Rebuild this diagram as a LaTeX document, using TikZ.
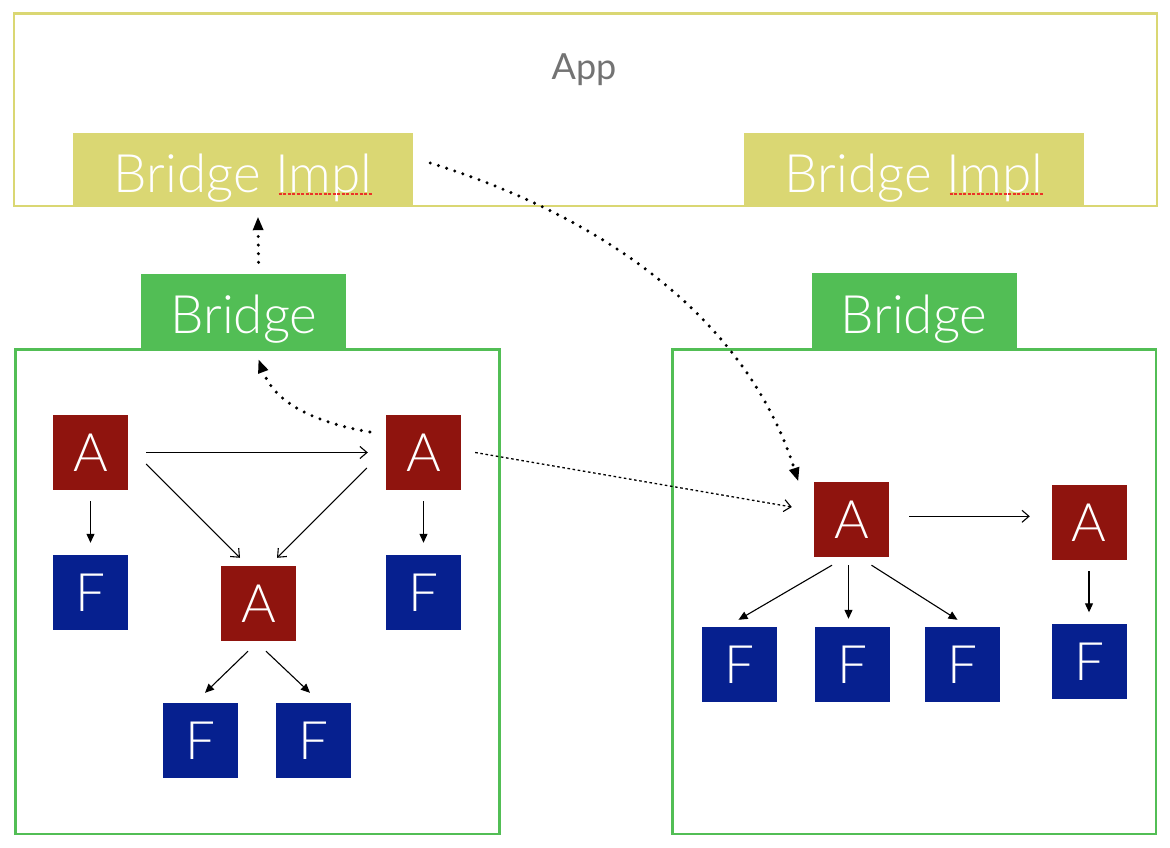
\documentclass[tikz,border=0pt]{standalone}
\usepackage{fontspec}
\setmainfont{Lato Light}
\newfontfamily\appfont{Lato}
\usetikzlibrary{arrows.meta}
\definecolor{appy}{RGB}{218,215,115}
\definecolor{brg}{RGB}{82,190,85}
\definecolor{ared}{RGB}{143,20,14}
\definecolor{fblue}{RGB}{6,32,143}
\definecolor{appgray}{RGB}{115,115,115}
\definecolor{squig}{RGB}{235,50,40}
\tikzset{
  frameline/.style={line width=2.8pt},
  sq/.style={minimum width=75pt, minimum height=75pt, inner sep=0pt, text=white,
     font=\fontsize{53}{60}\selectfont},
  abox/.style={sq, fill=ared},
  fbox/.style={sq, fill=fblue},
  lbl/.style={text=white, inner sep=0pt, font=\fontsize{53}{60}\selectfont},
  implbox/.style={fill=appy, minimum width=340pt, minimum height=73pt, inner sep=0pt},
  brbox/.style={fill=brg, minimum width=205pt, minimum height=76pt, inner sep=0pt},
  arr/.style={line width=1.1pt, -{Triangle[length=9pt,width=8pt]}},
  oarr/.style={line width=1.1pt, -{Straight Barb[length=7pt,width=12pt,line width=1.1pt]}},
  bigdot/.style={line width=3.4pt, line cap=round, dash pattern=on 0pt off 8.6pt,
     -{Triangle[length=13pt,width=11pt,line width=0pt]}, shorten >=-1pt},
  finedot/.style={line width=1.3pt, dash pattern=on 2.6pt off 2.6pt,
     -{Straight Barb[length=7pt,width=12pt,line width=1.1pt]}},
  squigline/.style={draw=squig, line width=1.6pt, dash pattern=on 3pt off 1.5pt}
}
\begin{document}
\begin{tikzpicture}[x=1pt,y=-1pt]
\useasboundingbox (0,0) rectangle (1170,848);
\fill[white] (0,0) rectangle (1170,848);

% App frame
\draw[frameline, draw=appy] (14,13.5) rectangle (1157,206);
\node[text=appgray, inner sep=0pt, anchor=base, font=\appfont\fontsize{36}{40}\selectfont] (app) at (584,80) {App};

% Bridge Impl boxes
\node[implbox] (impl1) at (243,169.5) {};
\node[lbl, anchor=base] (impl1t) at (243,192) {Bridge Impl};
\node[implbox] (impl2) at (914,169.5) {};
\node[lbl, anchor=base] (impl2t) at (914,192) {Bridge Impl};
\draw[squigline] (278.5,194) -- (372,194);
\draw[squigline] (949.5,194) -- (1043,194);

% Green frames
\draw[frameline, draw=brg] (15.5,349.5) rectangle (499.5,834);
\draw[frameline, draw=brg] (672.5,349.5) rectangle (1156,834);

% Bridge boxes
\node[brbox] (br1) at (243.5,311.5) {};
\node[lbl, anchor=base] (br1t) at (244,333) {Bridge};
\node[brbox] (br2) at (914,311) {};
\node[lbl, anchor=base] (br2t) at (914,333) {Bridge};

% Left cluster
\node[abox] (a1) at (90.5,452.5) {A};
\node[abox] (a2) at (423.5,452.5) {A};
\node[abox] (a3) at (258.5,603.5) {A};
\node[fbox] (f1) at (90.5,592.5) {F};
\node[fbox] (f2) at (423.5,592.5) {F};
\node[fbox] (f3) at (200.5,740.5) {F};
\node[fbox] (f4) at (313.5,740.5) {F};

% Right cluster
\node[abox] (a4) at (851.5,519.5) {A};
\node[abox] (a5) at (1089,522.5) {A};
\node[fbox] (f5) at (739.5,664.5) {F};
\node[fbox] (f6) at (852,664.5) {F};
\node[fbox] (f7) at (962.5,664.5) {F};
\node[fbox] (f8) at (1089,661.5) {F};

% Left connectors
\draw[oarr] ([shift={(18,0)}]a1.east) -- ([shift={(-18,0)}]a2.west);
\draw[oarr] ([shift={(18,11.5)}]a1.east) -- ([shift={(-18.5,-8)}]a3.north);
\draw[oarr] ([shift={(-19,15.5)}]a2.west) -- ([shift={(18.5,-8)}]a3.north);
\draw[arr] ([shift={(0,11)}]a1.south) -- ([shift={(0,-12)}]f1.north);
\draw[arr] ([shift={(0,11)}]a2.south) -- ([shift={(0,-12)}]f2.north);
\draw[arr] ([shift={(-10.5,10)}]a3.south) -- ([shift={(4.5,-10)}]f3.north);
\draw[arr] ([shift={(7.5,10)}]a3.south) -- ([shift={(-3.5,-10)}]f4.north);

% Right connectors
\draw[oarr] ([shift={(20,-3.2)}]a4.east) -- ([shift={(-21.5,-6.2)}]a5.west);
\draw[arr] ([shift={(-19.5,8)}]a4.south) -- ([shift={(-1,-7)}]f5.north);
\draw[arr] ([shift={(-3,8)}]a4.south) -- ([shift={(-3.5,-8)}]f6.north);
\draw[arr] ([shift={(20,8)}]a4.south) -- ([shift={(-5,-7)}]f7.north);
\draw[arr] ([shift={(0,11)}]a5.south) -- ([shift={(0,-11.5)}]f8.north);

% Dotted connectors
\draw[bigdot] ([shift={(15,-11)}]br1.north) -- ([shift={(15,12)}]impl1.south);
\draw[bigdot] ([shift={(-16,-20.5)}]a2.west) .. controls (300,420) and (272,395) .. ([shift={(15.5,11)}]br1.south);
\draw[bigdot] ([shift={(17,-6.5)}]impl1.east) .. controls (620,222) and (750,330) .. ([shift={(-16,-2)}]a4.north west);
\draw[finedot] ([shift={(14,0)}]a2.east) -- ([shift={(-22,-12.5)}]a4.west);
\end{tikzpicture}
\end{document}
